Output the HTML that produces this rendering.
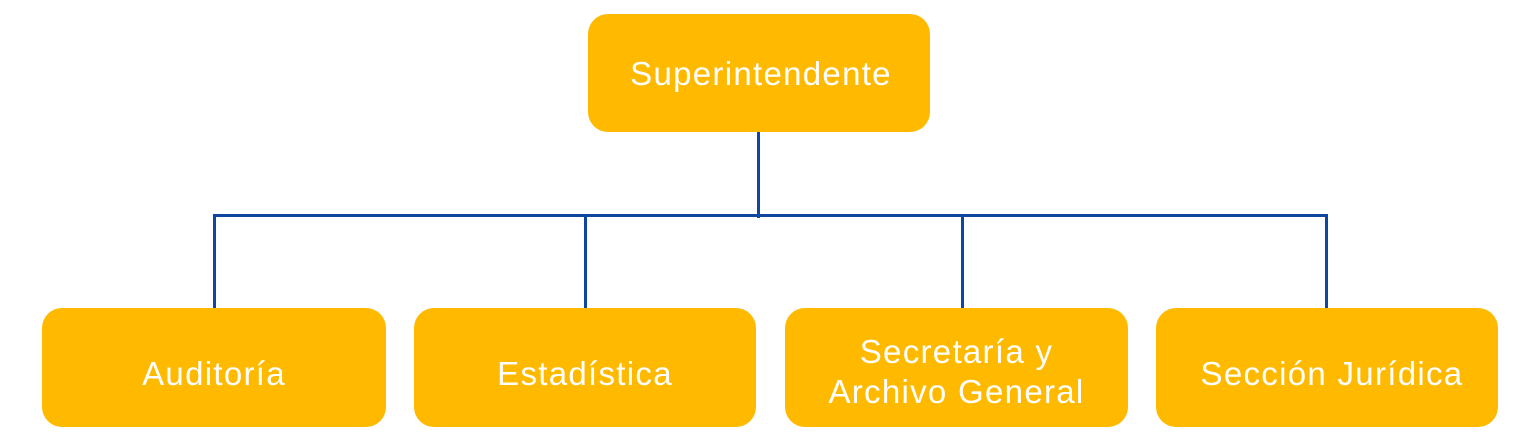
<!DOCTYPE html>
<html><head><meta charset="utf-8"><style>
body{margin:0;width:1536px;height:443px;background:#fff;position:relative;overflow:hidden;font-family:"Liberation Sans","DejaVu Sans",sans-serif}
.b{position:absolute;background:#FFBA00;border-radius:20px;color:#fff;display:flex;align-items:center;justify-content:center;text-align:center;font-size:33px;line-height:40px;letter-spacing:1.3px;box-sizing:border-box}
.d{padding-top:12px}
.l{position:absolute;background:#0E46A0}
</style></head><body>
<div class="l" style="left:757px;top:130px;width:3px;height:88px"></div>
<div class="l" style="left:213px;top:214px;width:1115px;height:3px"></div>
<div class="l" style="left:213px;top:214px;width:3px;height:96px"></div>
<div class="l" style="left:584px;top:214px;width:3px;height:96px"></div>
<div class="l" style="left:961px;top:214px;width:3px;height:96px"></div>
<div class="l" style="left:1325px;top:214px;width:3px;height:96px"></div>
<div class="b" style="left:588px;top:14px;width:342px;height:118px;padding-top:2px;padding-left:4px">Superintendente</div>
<div class="b d" style="left:42px;top:308px;width:344px;height:119px">Auditoría</div>
<div class="b d" style="left:414px;top:308px;width:342px;height:119px">Estadística</div>
<div class="b d" style="left:785px;top:308px;width:343px;height:119px;padding-top:8px">Secretaría y<br>Archivo General</div>
<div class="b d" style="left:1156px;top:308px;width:342px;height:119px;padding-left:10px">Sección Jurídica</div>
</body></html>
